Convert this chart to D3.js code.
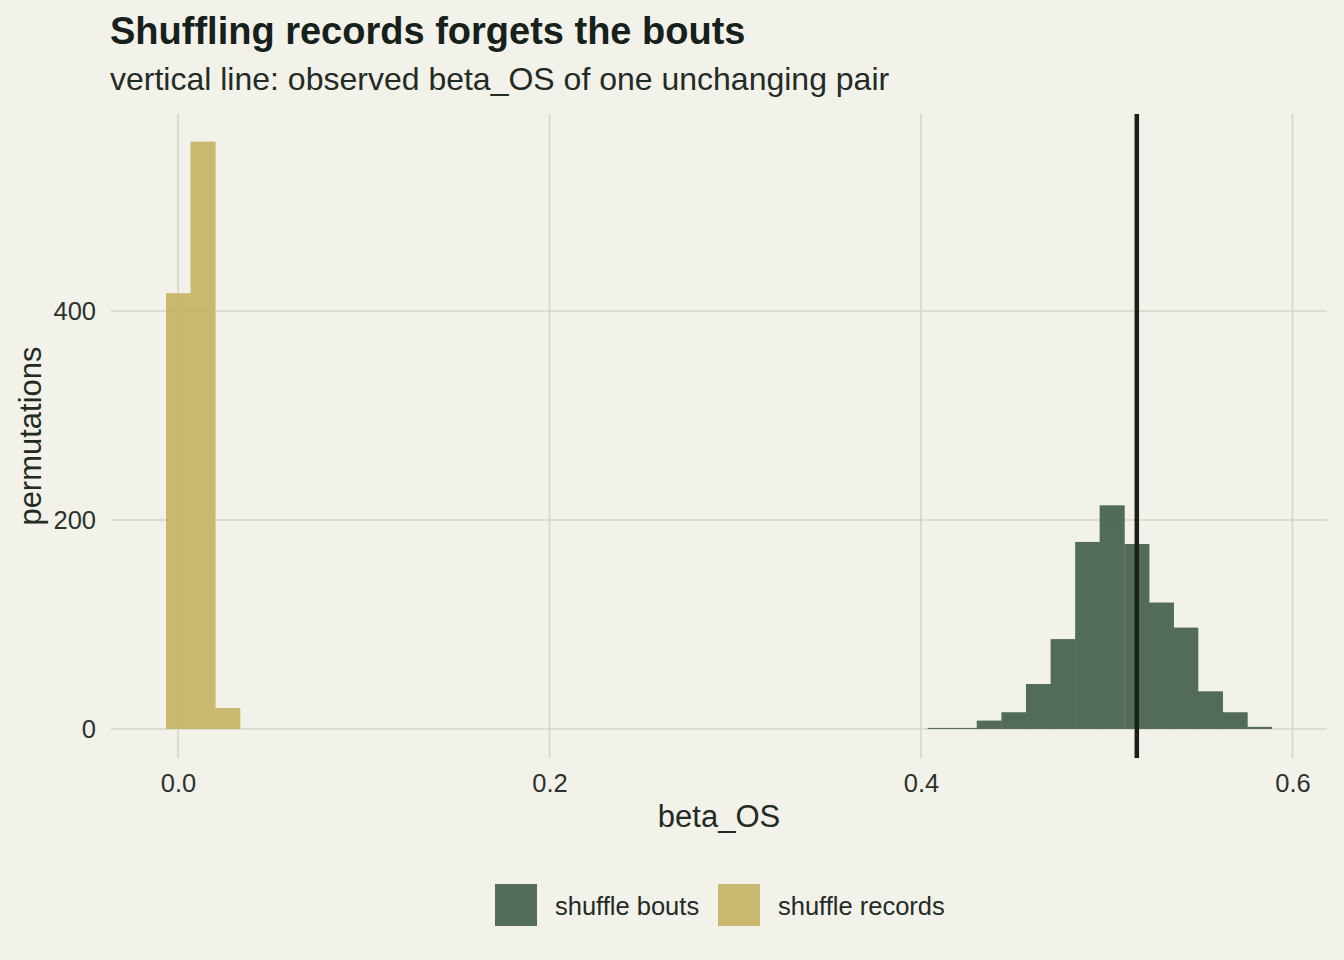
<!DOCTYPE html>
<html>
<head>
<meta charset="utf-8">
<script src="https://cdn.jsdelivr.net/npm/d3@7"></script>
<style>
  body { margin: 0; background: #f2f2ea; }
  svg { display: block; font-family: "Liberation Sans", Arial, Helvetica, sans-serif; }
</style>
</head>
<body>
<div id="chart"></div>
<script>
// histogram bins (left edge of each bin), shared bin width
var binWidth = 0.01323;
var recordBins = [-0.0065, 0.0067, 0.0200];
var recordCounts = [417, 562, 20];
var boutBins = [0.4036, 0.4168, 0.4300, 0.4433, 0.4565, 0.4698, 0.4830,
                0.4962, 0.5095, 0.5227, 0.5358, 0.5491, 0.5624, 0.5756];
var boutCounts = [1, 1, 8, 16, 43, 86, 179, 214, 177, 121, 97, 36, 16, 2];
var observed = 0.5162;

var xTicks = [0.0, 0.2, 0.4, 0.6];
var yTicks = [0, 200, 400];
var seriesNames = ["shuffle bouts", "shuffle records"];
var seriesColors = ["#425e4b", "#c4b362"];

var width = 1344, height = 960;
var panel = {left: 111, right: 1327, top: 114, bottom: 758};
var font = "'Liberation Sans', Arial, Helvetica, sans-serif";

var svg = d3.select("#chart").append("svg")
    .attr("width", width)
    .attr("height", height);

svg.append("rect")
    .attr("width", width)
    .attr("height", height)
    .attr("fill", "#f2f2ea");

var x = d3.scaleLinear()
    .domain([-0.0361, 0.6186])
    .range([panel.left, panel.right]);

var y = d3.scaleLinear()
    .domain([-27.8, 588.5])
    .range([panel.bottom, panel.top]);

// grid
var grid = svg.append("g");
grid.selectAll("line.vx").data(xTicks).enter()
    .append("line")
    .attr("x1", function(d){ return x(d); })
    .attr("x2", function(d){ return x(d); })
    .attr("y1", panel.top)
    .attr("y2", panel.bottom)
    .attr("stroke", "#d6d6c6")
    .attr("stroke-width", 1.6);
grid.selectAll("line.hy").data(yTicks).enter()
    .append("line")
    .attr("x1", panel.left)
    .attr("x2", panel.right)
    .attr("y1", function(d){ return y(d); })
    .attr("y2", function(d){ return y(d); })
    .attr("stroke", "#d6d6c6")
    .attr("stroke-width", 1.6);

// bars (group opacity so neighbouring bars don't darken where they touch)
function drawHist(bins, counts, color) {
    var data = bins.map(function(b, i){ return {x0: b, n: counts[i]}; });
    svg.append("g").attr("opacity", 0.9)
        .selectAll("rect").data(data).enter()
        .append("rect")
        .attr("x", function(d){ return x(d.x0); })
        .attr("width", function(d){ return x(d.x0 + binWidth) - x(d.x0) + 0.5; })
        .attr("y", function(d){ return y(d.n); })
        .attr("height", function(d){ return y(0) - y(d.n); })
        .attr("fill", color);
}
drawHist(boutBins, boutCounts, seriesColors[0]);
drawHist(recordBins, recordCounts, seriesColors[1]);

// observed line
svg.append("line")
    .attr("x1", x(observed))
    .attr("x2", x(observed))
    .attr("y1", panel.top)
    .attr("y2", panel.bottom)
    .attr("stroke", "#17211b")
    .attr("stroke-width", 4.5);

// axes (labels only, like ggplot minimal)
var xAxis = d3.axisBottom(x).tickValues(xTicks).tickFormat(d3.format(".1f")).tickSize(0).tickPadding(0);
var gx = svg.append("g")
    .attr("transform", "translate(0,792)")
    .call(xAxis);
gx.select(".domain").remove();
gx.selectAll("text")
    .attr("font-size", 25.5)
    .attr("fill", "#2b332c")
    .attr("dy", 0)
    .style("font-family", font);

var yAxis = d3.axisLeft(y).tickValues(yTicks).tickSize(0).tickPadding(0);
var gy = svg.append("g")
    .attr("transform", "translate(96,0)")
    .call(yAxis);
gy.select(".domain").remove();
gy.selectAll("text")
    .attr("font-size", 25.5)
    .attr("fill", "#2b332c")
    .attr("dy", "0.35em")
    .style("font-family", font);

// axis titles
svg.append("text")
    .attr("x", (panel.left + panel.right) / 2)
    .attr("y", 827)
    .attr("text-anchor", "middle")
    .attr("font-size", 31)
    .attr("fill", "#232b25")
    .text("beta_OS");

svg.append("text")
    .attr("transform", "translate(41," + ((panel.top + panel.bottom) / 2) + ") rotate(-90)")
    .attr("text-anchor", "middle")
    .attr("font-size", 31)
    .attr("fill", "#232b25")
    .text("permutations");

// title
svg.append("text")
    .attr("x", 110)
    .attr("y", 44)
    .attr("font-size", 38)
    .attr("font-weight", "bold")
    .attr("fill", "#17211b")
    .text("Shuffling records forgets the bouts");

svg.append("text")
    .attr("x", 110)
    .attr("y", 90)
    .attr("font-size", 32)
    .attr("fill", "#232b25")
    .text("vertical line: observed beta_OS of one unchanging pair");

// legend
var legendX = [495, 718];
var legend = svg.append("g");
seriesNames.forEach(function(name, i){
    legend.append("rect")
        .attr("x", legendX[i])
        .attr("y", 884)
        .attr("width", 42)
        .attr("height", 42)
        .attr("fill", seriesColors[i])
        .attr("fill-opacity", 0.9);
    legend.append("text")
        .attr("x", legendX[i] + 60)
        .attr("y", 915)
        .attr("font-size", 25.5)
        .attr("fill", "#232b25")
        .text(name);
});
</script>
</body>
</html>
